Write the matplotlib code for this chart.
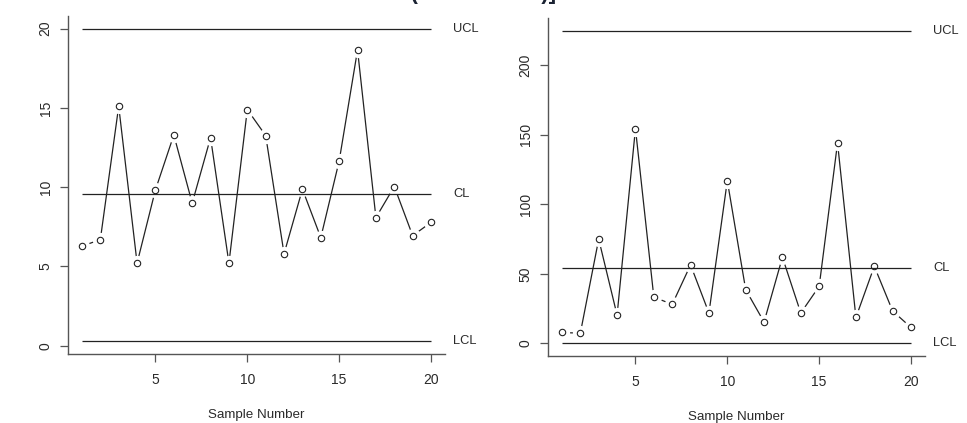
import matplotlib
matplotlib.use("Agg")
import matplotlib.pyplot as plt
import matplotlib.transforms as mtransforms
import numpy as np

plt.rcParams["font.family"] = ["Liberation Sans", "DejaVu Sans"]

# Sample numbers shared by both charts
samples = list(range(1, 21))

# Chart 1: sample means with control limits
xbar_values = [6.28, 6.69, 15.10, 5.21, 9.83, 13.29, 8.99, 13.12, 5.21, 14.89,
               13.25, 5.80, 9.87, 6.82, 11.65, 18.65, 8.08, 10.04, 6.94, 7.78]
xbar_limits = {"UCL": 20.0, "CL": 9.55, "LCL": 0.27}
xbar_ticks = [0, 5, 10, 15, 20]

# Chart 2: sample ranges with control limits
range_values = [7.9, 7.4, 75.0, 20.4, 154.5, 33.4, 28.1, 56.5, 21.9, 117.0,
                38.7, 15.4, 62.0, 21.9, 41.1, 144.2, 18.7, 55.5, 23.3, 11.5]
range_limits = {"UCL": 225.0, "CL": 54.0, "LCL": 0.0}
range_ticks = [0, 50, 100, 150, 200]

x_ticks = [5, 10, 15, 20]

INK = "#222222"
AXIS = "#555555"
TEXT = "#2a2a2a"


def control_chart(ax, values, limits, yticks):
    x = np.array(samples)
    y = np.array(values)
    # connecting line, broken around each point (R type="b" look)
    ax.plot(x, y, color=INK, lw=0.9, zorder=2)
    ax.plot(x, y, ls="none", marker="o", ms=11, mfc="white", mec="none", zorder=3)
    # control limits
    trans = mtransforms.blended_transform_factory(ax.transAxes, ax.transData)
    for name, val in limits.items():
        ax.hlines(val, samples[0], samples[-1], color=INK, lw=0.9, zorder=4)
        ax.text(1.021, val, name, transform=trans, ha="left", va="center",
                fontsize=9.3, color=TEXT, clip_on=False)
    # open circles
    ax.plot(x, y, ls="none", marker="o", ms=4.6, mfc="none", mec=INK,
            mew=0.8, zorder=5)

    ax.margins(x=0.04, y=0.04)
    ax.set_xticks(x_ticks)
    ax.set_yticks(yticks)
    ax.set_yticklabels([str(t) for t in yticks], rotation=90, va="center")
    for side in ("top", "right"):
        ax.spines[side].set_visible(False)
    for side in ("left", "bottom"):
        ax.spines[side].set_color(AXIS)
        ax.spines[side].set_linewidth(1.0)
    ax.tick_params(axis="both", length=5.5, width=0.9, color=AXIS,
                   labelsize=10, labelcolor=TEXT)
    ax.tick_params(axis="x", pad=8.5)
    ax.tick_params(axis="y", pad=5.5)
    ax.set_xlabel("Sample Number", fontsize=9.6, color=TEXT)
    ax.xaxis.set_label_coords(0.5, -0.163)


fig = plt.figure(figsize=(9.67, 4.23), dpi=100)
ax1 = fig.add_axes([68 / 967, 1 - 354 / 423, 377 / 967, 338 / 423])
ax2 = fig.add_axes([548 / 967, 1 - 356 / 423, 377 / 967, 338 / 423])

control_chart(ax1, xbar_values, xbar_limits, xbar_ticks)
control_chart(ax2, range_values, range_limits, range_ticks)

# figure heading running off the top edge
fig.text(556 / 967, 1 + 0.6 / 423,
         "[Control Charts for the\nMean and the Scale (X-bar and R)]",
         ha="right", va="baseline", multialignment="right",
         fontsize=15.8, fontweight="bold", color="#1b2333")

fig.savefig("out.png", dpi=100)
